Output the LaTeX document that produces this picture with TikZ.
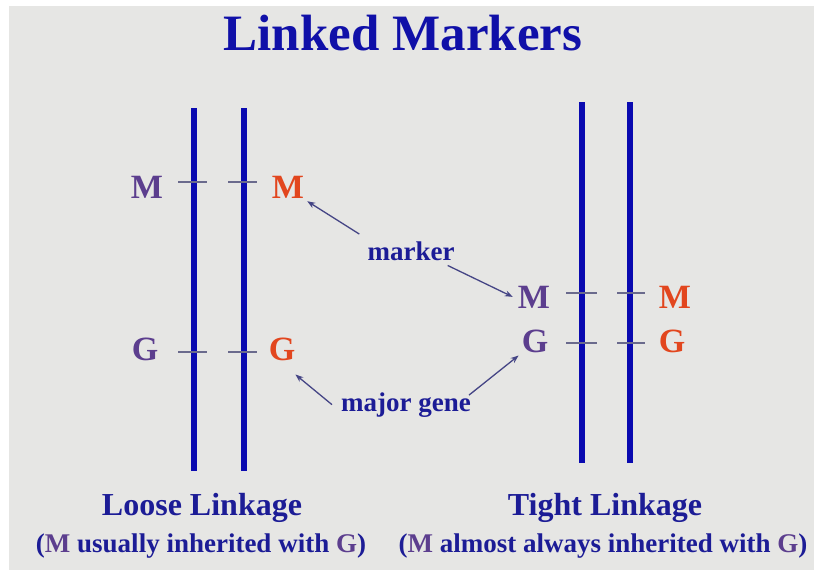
\documentclass[tikz,border=0pt]{standalone}
\usepackage{fontspec}
\setmainfont{Liberation Serif}
\usetikzlibrary{arrows.meta}
\definecolor{paper}{HTML}{E6E6E4}
\definecolor{chromblue}{HTML}{0A0AB0}
\definecolor{titleblue}{HTML}{1010A8}
\definecolor{labelblue}{HTML}{1C1C96}
\definecolor{parentp}{HTML}{5C3E8E}
\definecolor{parento}{HTML}{E2461E}
\definecolor{arrowc}{HTML}{454585}
\definecolor{tickc}{HTML}{6A6A8C}
\tikzset{
  chrom/.style={line width=6.5pt, chromblue},
  tick/.style={line width=1.1pt, tickc},
  allele/.style={anchor=base, inner sep=3pt, font=\fontsize{34}{40}\selectfont\bfseries},
  pat/.style={allele, text=parentp},
  mat/.style={allele, text=parento},
  lbl/.style={anchor=base, inner sep=3pt, text=labelblue, font=\fontsize{27}{32}\selectfont\bfseries},
  heading/.style={anchor=base, inner sep=0pt, text=labelblue, font=\fontsize{32}{38}\selectfont\bfseries},
  arr/.style={arrowc, line width=1.3pt, -{Stealth[length=8pt,width=6pt]}}
}
\begin{document}
\begin{tikzpicture}[x=1pt,y=-1pt]
  % page and textured paper
  \fill[white] (0,0) rectangle (814,570);
  \fill[paper] (9,6) rectangle (814,570);
  \useasboundingbox (0,0) rectangle (814,570);

  % title
  \node[anchor=base, inner sep=0pt, text=titleblue, font=\fontsize{51}{60}\selectfont\bfseries]
    (title) at (403,50) {Linked Markers};

  % loose linkage: two homologous chromosomes
  \coordinate (l1t) at (194,108); \coordinate (l1b) at (194,471);
  \coordinate (l2t) at (244,108); \coordinate (l2b) at (244,471);
  \draw[chrom] (l1t) -- (l1b);
  \draw[chrom] (l2t) -- (l2b);
  \foreach \y in {182,352}{
    \draw[tick] (178,\y) -- (207,\y);
    \draw[tick] (228,\y) -- (257,\y);
  }
  \node[pat] (Mpl) at (147,198) {M};
  \node[pat] (Gpl) at (145,360) {G};
  \node[mat] (Mol) at (288,198) {M};
  \node[mat] (Gol) at (282,360) {G};

  % tight linkage: two homologous chromosomes
  \coordinate (r1t) at (582,102); \coordinate (r1b) at (582,463);
  \coordinate (r2t) at (630,102); \coordinate (r2b) at (630,463);
  \draw[chrom] (r1t) -- (r1b);
  \draw[chrom] (r2t) -- (r2b);
  \foreach \y in {293,343}{
    \draw[tick] (566,\y) -- (597,\y);
    \draw[tick] (617,\y) -- (645,\y);
  }
  \node[pat] (Mpr) at (534,308) {M};
  \node[pat] (Gpr) at (535,352) {G};
  \node[mat] (Mor) at (675,308) {M};
  \node[mat] (Gor) at (672,352) {G};

  % callouts
  \node[lbl] (marker) at (411,260) {marker};
  \node[lbl] (major) at (406,411) {major gene};
  \draw[arr] ([shift={(-5pt,4pt)}]marker.north west) -- (Mol.south east);
  \draw[arr] ([shift={(-10pt,-2pt)}]marker.south east) -- ([shift={(-2pt,0pt)}]Mpr.west);
  \draw[arr] ([shift={(-6pt,0pt)}]major.west) -- ([shift={(-3pt,-11pt)}]Gol.south east);
  \draw[arr] ([shift={(-5pt,-6pt)}]major.north east) -- (Gpr.south west);

  % captions
  \node[heading] (loose) at (202,515) {Loose Linkage};
  \node[heading] (tight) at (605,515) {Tight Linkage};
  \node[lbl] (loosecap) at (201,552)
    {(\textcolor{parentp}{M} usually inherited with \textcolor{parentp}{G})};
  \node[lbl] (tightcap) at (603,552)
    {(\textcolor{parentp}{M} almost always inherited with \textcolor{parentp}{G})};
\end{tikzpicture}
\end{document}
